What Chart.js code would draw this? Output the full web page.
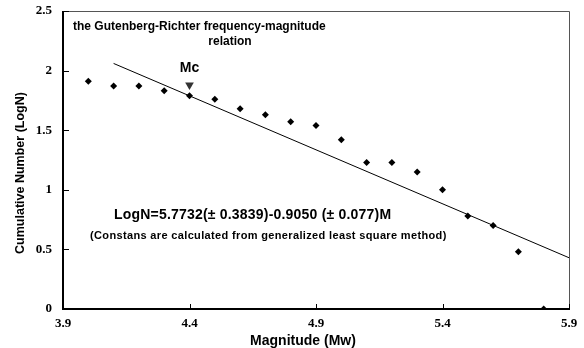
<!DOCTYPE html>
<html>
<head>
<meta charset="utf-8">
<script src="https://cdn.jsdelivr.net/npm/chart.js@4/dist/chart.umd.min.js"></script>
<style>
  html, body { margin: 0; padding: 0; background: #fff; }
  #wrap { width: 584px; height: 348px; }
</style>
</head>
<body>
<div id="wrap"><canvas id="grChart"></canvas></div>
<script>
// magnitudes and cumulative log counts
const magnitudes = [4.0, 4.1, 4.2, 4.3, 4.4, 4.5, 4.6, 4.7, 4.8, 4.9, 5.0, 5.1, 5.2, 5.3, 5.4, 5.5, 5.6, 5.7, 5.8];
const logN = [1.91, 1.87, 1.87, 1.83, 1.79, 1.76, 1.68, 1.63, 1.57, 1.54, 1.42, 1.23, 1.23, 1.15, 1.00, 0.78, 0.70, 0.48, 0.00];
// fitted line end points
const fitX = [4.1, 5.9];
const fitY = [2.06, 0.43];
// magnitude of completeness marker
const mcX = 4.4;
const mcY = 1.88;
// axis ticks
const xTicks = [3.9, 4.4, 4.9, 5.4, 5.9];
const yTicks = [0, 0.5, 1, 1.5, 2, 2.5];

const sans = "'Liberation Sans', Arial, sans-serif";
const serif = "'Liberation Serif', 'Times New Roman', serif";

// plot frame, inward tick marks and the text notes
const extras = {
  id: 'extras',
  beforeDatasetsDraw(chart) {
    const { ctx, chartArea: a } = chart;
    const x = chart.scales.x, y = chart.scales.y;
    ctx.save();
    ctx.lineWidth = 1;
    ctx.strokeStyle = '#555';
    ctx.beginPath();
    ctx.moveTo(a.left, a.top + 0.5);
    ctx.lineTo(a.right + 0.5, a.top + 0.5);
    ctx.lineTo(a.right + 0.5, a.bottom);
    ctx.stroke();
    ctx.strokeStyle = '#000';
    ctx.beginPath();
    for (const t of x.ticks) {
      const px = Math.round(x.getPixelForValue(t.value)) + 0.5;
      ctx.moveTo(px, a.bottom);
      ctx.lineTo(px, a.bottom - 5);
    }
    for (const t of y.ticks) {
      const py = Math.round(y.getPixelForValue(t.value)) + 0.5;
      ctx.moveTo(a.left, py);
      ctx.lineTo(a.left + 6, py);
    }
    ctx.stroke();
    ctx.lineWidth = 2;
    ctx.beginPath();
    ctx.moveTo(a.left, a.top);
    ctx.lineTo(a.left, a.bottom);
    ctx.lineTo(a.right + 1, a.bottom);
    ctx.stroke();
    ctx.restore();
  },
  afterDraw(chart) {
    const { ctx } = chart;
    const x = chart.scales.x;
    ctx.save();
    ctx.fillStyle = '#000';
    ctx.textBaseline = 'middle';

    ctx.font = 'bold 12px ' + sans;
    ctx.textAlign = 'left';
    ctx.fillText('the Gutenberg-Richter frequency-magnitude', 73, 27);
    ctx.textAlign = 'center';
    ctx.fillText('relation', 230, 42);

    ctx.font = 'bold 14px ' + sans;
    ctx.fillText('Mc', x.getPixelForValue(mcX), 68);

    ctx.textAlign = 'left';
    ctx.font = 'bold 14px ' + sans;
    ctx.letterSpacing = '0.2px';
    ctx.fillText('LogN=5.7732(\u00b1 0.3839)-0.9050 (\u00b1 0.077)M', 114, 215);
    ctx.font = 'bold 11px ' + sans;
    ctx.letterSpacing = '0.35px';
    ctx.fillText('(Constans are calculated from generalized least square method)', 90, 236);
    ctx.letterSpacing = '0px';

    // axis titles
    ctx.textAlign = 'center';
    ctx.font = 'bold 14px ' + sans;
    ctx.fillText('Magnitude (Mw)', 303, 341);
    ctx.translate(21, 173);
    ctx.rotate(-Math.PI / 2);
    ctx.font = 'bold 12.5px ' + sans;
    ctx.fillText('Cumulative Number (LogN)', 0, 0);
    ctx.restore();
  }
};

new Chart('grChart', {
  type: 'scatter',
  data: {
    datasets: [
      {
        data: magnitudes.map((m, i) => ({ x: m, y: logN[i] })),
        pointStyle: 'rectRot',
        pointRadius: 3.5,
        backgroundColor: '#000',
        borderColor: '#000',
        borderWidth: 0,
        order: 1
      },
      {
        type: 'line',
        data: fitX.map((m, i) => ({ x: m, y: fitY[i] })),
        borderColor: '#000',
        borderWidth: 1,
        pointRadius: 0,
        order: 2
      },
      {
        data: [{ x: mcX, y: mcY }],
        pointStyle: 'triangle',
        rotation: 180,
        pointRadius: 5,
        backgroundColor: '#333',
        borderColor: '#333',
        borderWidth: 0,
        order: 0
      }
    ]
  },
  options: {
    responsive: true,
    maintainAspectRatio: false,
    animation: false,
    layout: { padding: { left: 0, top: 11, right: 15, bottom: 0 } },
    plugins: {
      legend: { display: false },
      tooltip: { enabled: false }
    },
    scales: {
      x: {
        type: 'linear',
        min: 3.9,
        max: 5.9,
        afterBuildTicks: s => { s.ticks = xTicks.map(v => ({ value: v })); },
        afterFit: s => { s.height = 39; s.paddingLeft = 0; s.paddingRight = 0; },
        grid: { display: false, drawTicks: false },
        border: { display: false },
        ticks: {
          padding: 7,
          color: '#000',
          font: { family: serif, size: 13, weight: 'bold' },
          callback: v => String(v)
        }
      },
      y: {
        min: 0,
        max: 2.5,
        afterBuildTicks: s => { s.ticks = yTicks.map(v => ({ value: v })); },
        afterFit: s => { s.width = 63; s.paddingTop = 0; s.paddingBottom = 0; },
        grid: { display: false, drawTicks: false },
        border: { display: false },
        ticks: {
          padding: 11,
          color: '#000',
          font: { family: serif, size: 13, weight: 'bold' },
          callback: v => String(v)
        }
      }
    }
  },
  plugins: [extras]
});
</script>
</body>
</html>
